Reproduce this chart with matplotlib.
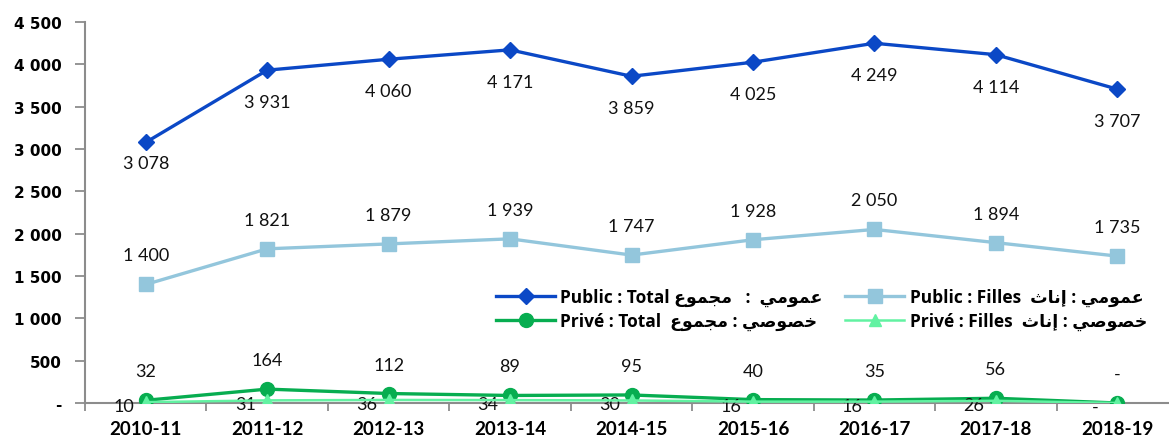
import numpy as np
import matplotlib
matplotlib.use("Agg")
import matplotlib.pyplot as plt
from matplotlib.ticker import FuncFormatter

years = ["2010-11", "2011-12", "2012-13", "2013-14", "2014-15",
         "2015-16", "2016-17", "2017-18", "2018-19"]
public_total = [3078, 3931, 4060, 4171, 3859, 4025, 4249, 4114, 3707]
public_filles = [1400, 1821, 1879, 1939, 1747, 1928, 2050, 1894, 1735]
prive_total = [32, 164, 112, 89, 95, 40, 35, 56, 0]
prive_filles = [10, 31, 36, 34, 30, 16, 16, 26, 0]

# arabic letters -> (isolated, final, initial, medial) presentation forms
FORMS = {
    "\u0639": ("\uFEC9", "\uFECA", "\uFECB", "\uFECC"),
    "\u0645": ("\uFEE1", "\uFEE2", "\uFEE3", "\uFEE4"),
    "\u0648": ("\uFEED", "\uFEEE", None, None),
    "\u064A": ("\uFEF1", "\uFEF2", "\uFEF3", "\uFEF4"),
    "\u062C": ("\uFE9D", "\uFE9E", "\uFE9F", "\uFEA0"),
    "\u0625": ("\uFE87", "\uFE88", None, None),
    "\u0646": ("\uFEE5", "\uFEE6", "\uFEE7", "\uFEE8"),
    "\u0627": ("\uFE8D", "\uFE8E", None, None),
    "\u062B": ("\uFE99", "\uFE9A", "\uFE9B", "\uFE9C"),
    "\u062E": ("\uFEA5", "\uFEA6", "\uFEA7", "\uFEA8"),
    "\u0635": ("\uFEB9", "\uFEBA", "\uFEBB", "\uFEBC"),
}


def shape(word):
    # join the letters and flip them into visual (left to right) order
    out = []
    for i, ch in enumerate(word):
        f = FORMS[ch]
        prev = i > 0 and FORMS[word[i - 1]][2] is not None
        nxt = i < len(word) - 1 and f[2] is not None
        if prev and nxt:
            out.append(f[3])
        elif prev:
            out.append(f[1])
        elif nxt:
            out.append(f[2])
        else:
            out.append(f[0])
    return "".join(reversed(out))


total_ar = shape("مجموع")
filles_ar = shape("إناث")
public_ar = shape("عمومي")
prive_ar = shape("خصوصي")

labels = [
    "Public : Total " + total_ar + "   :  " + public_ar,
    "Privé : Total  " + total_ar + " : " + prive_ar,
    "Public : Filles  " + filles_ar + " : " + public_ar,
    "Privé : Filles  " + filles_ar + " : " + prive_ar,
]


def fmt(v):
    return "-" if v == 0 else f"{v:,}".replace(",", " ")


fig = plt.figure(figsize=(11.69, 4.39), dpi=100)
ax = fig.add_axes([85 / 1169, 35 / 439, (1178 - 85) / 1169, (404 - 23) / 439])

x = np.arange(len(years))
l1, = ax.plot(x, public_total, color="#0b48c6", lw=2.4, marker="D", ms=8, zorder=5)
l2, = ax.plot(x, public_filles, color="#93c6dc", lw=2.4, marker="s", ms=10, zorder=4)
l3, = ax.plot(x, prive_total, color="#07ad50", lw=2.4, marker="o", ms=10, zorder=3)
l4, = ax.plot(x, prive_filles, color="#62f2a2", lw=1.8, marker="^", ms=9, zorder=4)

# label offsets in pixels (first public total label sits closer to its point)
pt_dy = [-21, -32, -32, -32, -32, -32, -32, -32, -32]

lab_font = dict(family=["Lato", "DejaVu Sans"], fontsize=13, color="#111111")
for i in x:
    ax.annotate(fmt(public_total[i]), (i, public_total[i]), xytext=(0, pt_dy[i]),
                textcoords="offset pixels", ha="center", va="center", **lab_font)
    ax.annotate(fmt(public_filles[i]), (i, public_filles[i]), xytext=(0, 29),
                textcoords="offset pixels", ha="center", va="center", **lab_font)
    ax.annotate(fmt(prive_total[i]), (i, prive_total[i]), xytext=(0, 29),
                textcoords="offset pixels", ha="center", va="center", **lab_font)
    ax.annotate(fmt(prive_filles[i]), (i, prive_filles[i]), xytext=(-22, -4),
                textcoords="offset pixels", ha="center", va="center", **lab_font)

ax.set_xlim(-0.5, 8.5)
ax.set_ylim(0, 4500)
ax.set_yticks(np.arange(0, 4501, 500))
ax.yaxis.set_major_formatter(FuncFormatter(lambda v, p: fmt(int(v))))
ax.set_xticks(x)
ax.set_xticklabels(years)
ax.set_xticks(np.arange(-0.5, 9, 1), minor=True)
ax.tick_params(axis="x", which="major", length=0, pad=12)
ax.tick_params(axis="x", which="minor", length=6, color="#8c8c8c", width=1.3)
ax.tick_params(axis="y", length=7, color="#8c8c8c", width=1.3, pad=10)
for t in ax.get_xticklabels():
    t.set_fontfamily(["Lato", "DejaVu Sans"])
    t.set_fontweight("bold")
    t.set_fontsize(13.5)
for t in ax.get_yticklabels():
    t.set_fontfamily("DejaVu Sans")
    t.set_fontweight("bold")
    t.set_fontsize(11)

for s in ["top", "right"]:
    ax.spines[s].set_visible(False)
for s in ["left", "bottom"]:
    ax.spines[s].set_color("#8c8c8c")
    ax.spines[s].set_linewidth(1.5)

leg = fig.legend([l1, l3, l2, l4], labels, ncol=2, frameon=False,
                 loc="upper left", bbox_to_anchor=(484 / 1169, 1 - 277 / 439),
                 handlelength=3.4, handletextpad=0.3, columnspacing=1.3,
                 labelspacing=0.3, borderpad=0.2,
                 prop=dict(family=["Open Sans", "DejaVu Sans"], weight="bold", size=12.5))

fig.savefig("out.png", dpi=100)
